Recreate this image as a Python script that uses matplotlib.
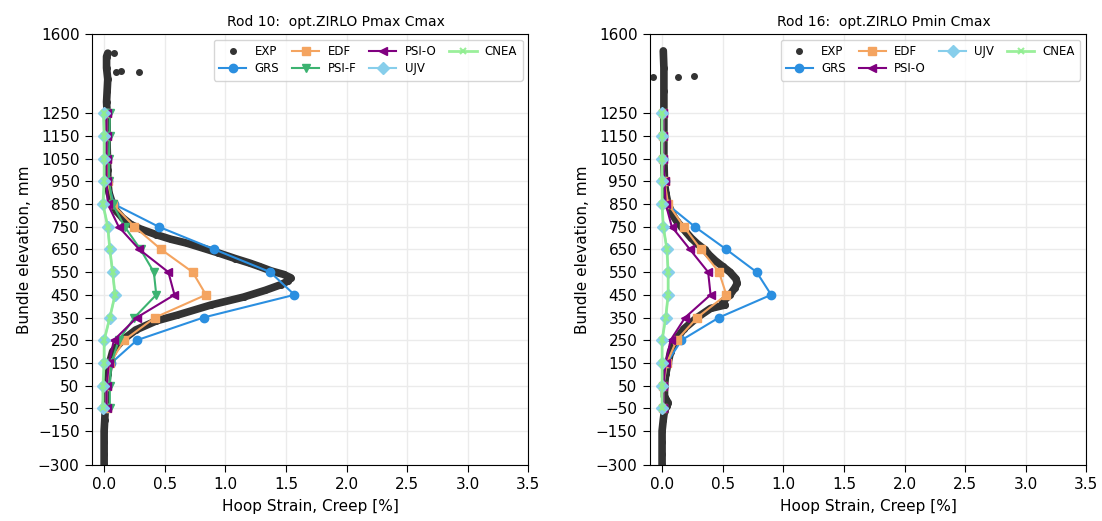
import matplotlib
matplotlib.use('Agg')
import matplotlib.pyplot as plt

# Elevaciones de los nodos de los modelos
elev = [1250, 1150, 1050, 950, 850, 750, 650, 550, 450, 350, 250, 150, 50, -50]

# Rod 10: opt.ZIRLO Pmax Cmax
r10_grs = [0.02, 0.02, 0.02, 0.03, 0.08, 0.45, 0.91, 1.37, 1.57, 0.82, 0.27, 0.06, 0.02, 0.02]
r10_edf = [0.02, 0.02, 0.02, 0.03, 0.07, 0.25, 0.47, 0.73, 0.84, 0.42, 0.165, 0.05, 0.02, 0.02]
r10_psio = [0.02, 0.02, 0.02, 0.02, 0.03, 0.12, 0.29, 0.53, 0.58, 0.27, 0.08, 0.04, 0.02, 0.02]
r10_psif = [0.047, 0.045, 0.04, 0.04, 0.07, 0.17, 0.30, 0.41, 0.43, 0.25, 0.12, 0.06, 0.047, 0.047]
r10_ujv = [-0.005, 0.0, 0.0, 0.0, -0.01, 0.03, 0.047, 0.07, 0.09, 0.047, 0.0, 0.0, -0.01, -0.01]
r10_cnea = r10_ujv

r10_exp_e = [-300, -250, -200, -150, -100, -50, 0, 50, 100, 150, 200, 250, 295, 335, 360,
             405, 440, 470, 495, 512, 525, 540, 555, 575, 590, 610, 635, 655, 678, 695,
             715, 740, 760, 790, 820, 850, 900, 950, 1000, 1100, 1200, 1250, 1300, 1350,
             1400, 1450, 1500, 1515]
r10_exp_v = [0.0, 0.0, 0.0, 0.0, 0.005, 0.01, 0.015, 0.02, 0.03, 0.045, 0.07, 0.15, 0.26, 0.43, 0.60,
             0.88, 1.15, 1.33, 1.46, 1.52, 1.54, 1.48, 1.38, 1.28, 1.20, 1.08, 0.94, 0.82, 0.68, 0.55,
             0.43, 0.30, 0.22, 0.15, 0.10, 0.07, 0.04, 0.03, 0.03, 0.025, 0.025, 0.025, 0.02, 0.025,
             0.03, 0.02, 0.02, 0.03]
r10_out_e = [1432, 1435, 1430, 1516]
r10_out_v = [0.29, 0.14, 0.10, 0.08]

# Rod 16: opt.ZIRLO Pmin Cmax
r16_grs = [0.01, 0.01, 0.01, 0.02, 0.04, 0.27, 0.53, 0.78, 0.90, 0.47, 0.16, 0.04, 0.01, 0.01]
r16_edf = [0.01, 0.01, 0.01, 0.02, 0.05, 0.18, 0.32, 0.47, 0.53, 0.29, 0.12, 0.04, 0.01, 0.01]
r16_psio = [0.01, 0.01, 0.01, 0.02, 0.03, 0.08, 0.23, 0.38, 0.40, 0.19, 0.07, 0.03, 0.01, 0.01]
r16_ujv = [0.0, 0.0, 0.0, 0.0, 0.0, 0.01, 0.04, 0.05, 0.05, 0.03, 0.0, 0.0, 0.0, 0.0]
r16_cnea = r16_ujv

r16_exp_e = [-300, -250, -200, -150, -100, -60, -40, -25, -10, 0, 50, 100, 150, 200, 250,
             300, 350, 390, 405, 420, 450, 480, 500, 520, 550, 575, 600, 625, 650, 675,
             700, 725, 750, 775, 800, 850, 900, 950, 1050, 1150, 1250, 1350, 1450, 1525]
r16_exp_v = [0.0, 0.0, 0.0, 0.0, 0.01, 0.02, 0.04, 0.05, 0.03, 0.02, 0.02, 0.03, 0.05, 0.07, 0.11,
             0.18, 0.29, 0.40, 0.52, 0.50, 0.56, 0.60, 0.62, 0.61, 0.56, 0.50, 0.44, 0.39, 0.35, 0.29,
             0.24, 0.20, 0.16, 0.12, 0.09, 0.05, 0.03, 0.02, 0.015, 0.015, 0.015, 0.015, 0.015, 0.01]
r16_out_e = [1412, 1412, 1414]
r16_out_v = [-0.077, 0.135, 0.265]

yticks = [1600, 1250, 1150, 1050, 950, 850, 750, 650, 550, 450, 350, 250, 150, 50, -50, -150, -300]
xticks = [0.0, 0.5, 1.0, 1.5, 2.0, 2.5, 3.0, 3.5]

c_exp = '#333333'
estilos = {
    'GRS': dict(color='#2b8fe0', marker='o'),
    'EDF': dict(color='#f4a460', marker='s'),
    'PSI-F': dict(color='#3cb371', marker='v'),
    'PSI-O': dict(color='#800080', marker='<'),
    'UJV': dict(color='#87ceeb', marker='D'),
    'CNEA': dict(color='#90ee90', marker='x', markersize=5, markeredgewidth=1.5,
                 linewidth=2, alpha=0.9),
}

fig = plt.figure(figsize=(11.02, 5.21), dpi=100)
ax1 = fig.add_axes([0.0835, 0.1075, 0.396, 0.8275])
ax2 = fig.add_axes([0.5898, 0.1075, 0.396, 0.8275])


def dibujar(ax, titulo, tx, exp_e, exp_v, out_e, out_v, modelos):
    ax.grid(True, color='#ebebeb', linewidth=1, zorder=0)
    ax.plot(exp_v, exp_e, '-', color=c_exp, linewidth=5.5, solid_capstyle='round', zorder=2)
    ax.plot(exp_v + out_v, exp_e + out_e, 'o', color=c_exp, markersize=4,
            linestyle='none', label='EXP', zorder=2)
    for nombre, valores in modelos:
        st = dict(markersize=6, linewidth=1.5)
        st.update(estilos[nombre])
        ax.plot(valores, elev, label=nombre, zorder=3, **st)
    ax.set_xlim(-0.1, 3.5)
    ax.set_ylim(-300, 1600)
    ax.set_xticks(xticks)
    ax.set_yticks(yticks)
    ax.tick_params(labelsize=11, length=5, pad=4)
    ax.set_title(titulo, fontsize=10, x=tx)
    ax.set_xlabel('Hoop Strain, Creep [%]', fontsize=11, labelpad=5)
    ax.set_ylabel('Bundle elevation, mm', fontsize=11)


dibujar(ax1, 'Rod 10:  opt.ZIRLO Pmax Cmax', 0.56, r10_exp_e, r10_exp_v, r10_out_e, r10_out_v,
        [('GRS', r10_grs), ('EDF', r10_edf), ('PSI-F', r10_psif), ('PSI-O', r10_psio),
         ('UJV', r10_ujv), ('CNEA', r10_cnea)])
dibujar(ax2, 'Rod 16:  opt.ZIRLO Pmin Cmax', 0.535, r16_exp_e, r16_exp_v, r16_out_e, r16_out_v,
        [('GRS', r16_grs), ('EDF', r16_edf), ('PSI-O', r16_psio),
         ('UJV', r16_ujv), ('CNEA', r16_cnea)])

# Orden de la leyenda: EXP, GRS, EDF, PSI-F, PSI-O, UJV, CNEA
for ax, orden in [(ax1, ['EXP', 'GRS', 'EDF', 'PSI-F', 'PSI-O', 'UJV', 'CNEA']),
                  (ax2, ['EXP', 'GRS', 'EDF', 'PSI-O', 'UJV', 'CNEA'])]:
    h, l = ax.get_legend_handles_labels()
    d = dict(zip(l, h))
    ax.legend([d[k] for k in orden], orden, loc='upper right', ncol=4, fontsize=8.5,
              handlelength=2.3, columnspacing=1.1, handletextpad=0.7, borderpad=0.45,
              labelspacing=0.35)

fig.savefig('out.png', dpi=100)
